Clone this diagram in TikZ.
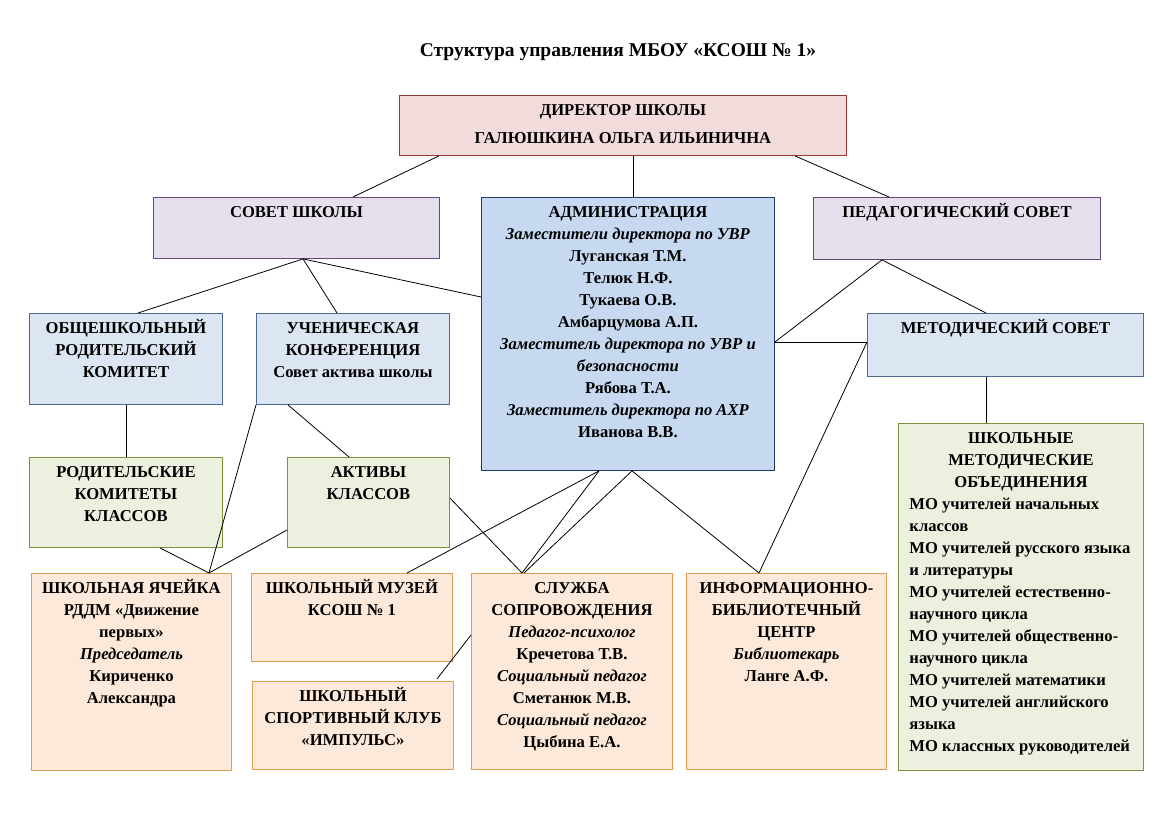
\documentclass[tikz,border=0pt]{standalone}
\usepackage{fontspec}
\setmainfont{Liberation Serif}
\usetikzlibrary{calc}
\definecolor{dirfill}{HTML}{F2DCDB}
\definecolor{dirline}{HTML}{953735}
\definecolor{lavfill}{HTML}{E5E0EC}
\definecolor{lavline}{HTML}{604A7B}
\definecolor{admfill}{HTML}{C6D9F1}
\definecolor{admline}{HTML}{1F3864}
\definecolor{bluefill}{HTML}{DCE6F2}
\definecolor{blueline}{HTML}{4A6A94}
\definecolor{grnfill}{HTML}{EBF1DE}
\definecolor{grnline}{HTML}{77933C}
\definecolor{peachfill}{HTML}{FDE9D9}
\definecolor{peachline}{HTML}{E59B4F}
\newcommand{\orgtext}[3]{\parbox[t][#2pt][t]{#1pt}{\centering\rule{0pt}{20pt}#3}}
\tikzset{
  orgbox/.style={draw, line width=0.9pt, inner sep=0pt, anchor=north west,
    font=\fontsize{16.6}{22}\selectfont\bfseries},
  dirbox/.style={orgbox, fill=dirfill, draw=dirline},
  lavbox/.style={orgbox, fill=lavfill, draw=lavline},
  admbox/.style={orgbox, fill=admfill, draw=admline},
  bluebox/.style={orgbox, fill=bluefill, draw=blueline},
  grnbox/.style={orgbox, fill=grnfill, draw=grnline},
  peachbox/.style={orgbox, fill=peachfill, draw=peachline},
  link/.style={draw=black, line width=0.8pt}
}
\begin{document}
\begin{tikzpicture}[x=1pt,y=-1pt]
\useasboundingbox (0,0) rectangle (1169,826);
\node[font=\fontsize{19.5}{22}\selectfont\bfseries] (title) at (618,52) {Структура управления МБОУ «КСОШ № 1»};
% top level
\node[dirbox] (dir) at (399,95) {\orgtext{447}{60}{ДИРЕКТОР ШКОЛЫ\\[6pt]ГАЛЮШКИНА ОЛЬГА ИЛЬИНИЧНА}};
\node[lavbox] (sov) at (153,197) {\orgtext{286}{61}{СОВЕТ ШКОЛЫ}};
\node[admbox] (adm) at (481,197) {\orgtext{293}{273}{АДМИНИСТРАЦИЯ\\
  \textit{Заместители директора по УВР}\\
  Луганская Т.М.\\
  Телюк Н.Ф.\\
  Тукаева О.В.\\
  Амбарцумова А.П.\\
  \textit{Заместитель директора по УВР и}\\
  \textit{безопасности}\\
  Рябова Т.А.\\
  \textit{Заместитель директора по АХР}\\
  Иванова В.В.}};
\node[lavbox] (ped) at (813,197) {\orgtext{287}{62}{ПЕДАГОГИЧЕСКИЙ СОВЕТ}};
% second level
\node[bluebox] (ork) at (29,313) {\orgtext{193}{91}{ОБЩЕШКОЛЬНЫЙ\\РОДИТЕЛЬСКИЙ\\КОМИТЕТ}};
\node[bluebox] (uch) at (256,313) {\orgtext{193}{91}{УЧЕНИЧЕСКАЯ\\КОНФЕРЕНЦИЯ\\Совет актива школы}};
\node[bluebox] (met) at (867,313) {\orgtext{276}{63}{МЕТОДИЧЕСКИЙ СОВЕТ}};
\node[grnbox] (rkk) at (29,457) {\orgtext{193}{90}{РОДИТЕЛЬСКИЕ\\КОМИТЕТЫ\\КЛАССОВ}};
\node[grnbox] (akt) at (287,457) {\orgtext{162}{90}{АКТИВЫ\\КЛАССОВ}};
\node[grnbox] (shmo) at (898,423) {\orgtext{245}{347}{ШКОЛЬНЫЕ\\МЕТОДИЧЕСКИЕ\\ОБЪЕДИНЕНИЯ\par
  \raggedright\leftskip=11pt
  МО учителей начальных\\
  классов\\
  МО учителей русского языка\\
  и литературы\\
  МО учителей естественно-\\
  научного цикла\\
  МО учителей общественно-\\
  научного цикла\\
  МО учителей математики\\
  МО учителей английского\\
  языка\\
  МО классных руководителей}};
% bottom row
\node[peachbox] (yach) at (31,573) {\orgtext{200}{197}{ШКОЛЬНАЯ ЯЧЕЙКА\\РДДМ «Движение\\первых»\\\textit{Председатель}\\Кириченко\\Александра}};
\node[peachbox] (muz) at (251,573) {\orgtext{201}{88}{ШКОЛЬНЫЙ МУЗЕЙ\\КСОШ № 1}};
\node[peachbox] (spk) at (252,681) {\orgtext{201}{88}{ШКОЛЬНЫЙ\\СПОРТИВНЫЙ КЛУБ\\«ИМПУЛЬС»}};
\node[peachbox] (slu) at (471,573) {\orgtext{201}{196}{СЛУЖБА\\СОПРОВОЖДЕНИЯ\\
  \textit{Педагог-психолог}\\
  Кречетова Т.В.\\
  \textit{Социальный педагог}\\
  Сметанюк М.В.\\
  \textit{Социальный педагог}\\
  Цыбина Е.А.}};
\node[peachbox] (ibc) at (686,573) {\orgtext{200}{196}{ИНФОРМАЦИОННО-\\БИБЛИОТЕЧНЫЙ\\ЦЕНТР\\\textit{Библиотекарь}\\Ланге А.Ф.}};
% connectors
\coordinate (admtop) at ($(adm.north west)+(152,0)$);
\coordinate (sovbot) at ($(sov.south west)+(150,0)$);
\coordinate (pedbot) at ($(ped.south west)+(69,0)$);
\coordinate (admright) at ($(adm.north east)+(0,145)$);
\coordinate (metleft) at ($(met.north west)+(0,29)$);
\coordinate (yachtop) at ($(yach.north west)+(178,0)$);
\coordinate (slutop) at ($(slu.north west)+(51,0)$);
\coordinate (ibctop) at ($(ibc.north west)+(73,0)$);
\coordinate (metbot) at ($(met.south west)+(119,0)$);
\draw[link] ($(dir.south west)+(40,0)$) -- ($(sov.north west)+(200,0)$);
\draw[link] (dir.south -| admtop) -- (admtop);
\draw[link] ($(dir.south west)+(396,0)$) -- ($(ped.north west)+(76,0)$);
\draw[link] (sovbot) -- ($(ork.north west)+(109,0)$);
\draw[link] (sovbot) -- ($(uch.north west)+(81,0)$);
\draw[link] (sovbot) -- ($(adm.north west)+(0,100)$);
\draw[link] (ork.south) -- (rkk.north);
\draw[link] (uch.south west) -- (yachtop);
\draw[link] ($(uch.south west)+(32,0)$) -- ($(akt.north west)+(62,0)$);
\draw[link] ($(rkk.south west)+(131,0)$) -- (yachtop);
\draw[link] ($(akt.north west)+(0,73)$) -- (yachtop);
\draw[link] ($(akt.north east)+(0,41)$) -- (slutop);
\draw[link] ($(adm.south west)+(118,0)$) -- ($(muz.north west)+(156,0)$);
\draw[link] ($(adm.south west)+(118,0)$) -- (slutop);
\draw[link] ($(adm.south west)+(151,0)$) -- ($(slu.north west)+(53,0)$);
\draw[link] ($(adm.south west)+(151,0)$) -- (ibctop);
\draw[link] (ibctop) -- (metleft);
\draw[link] (admright) -- (metleft);
\draw[link] (pedbot) -- (admright);
\draw[link] (pedbot) -- ($(met.north west)+(119,0)$);
\draw[link] (metbot) -- (metbot |- shmo.north);
\draw[link] ($(slu.north west)+(0,62)$) -- ($(spk.north west)+(185,-2)$);
\end{tikzpicture}
\end{document}
